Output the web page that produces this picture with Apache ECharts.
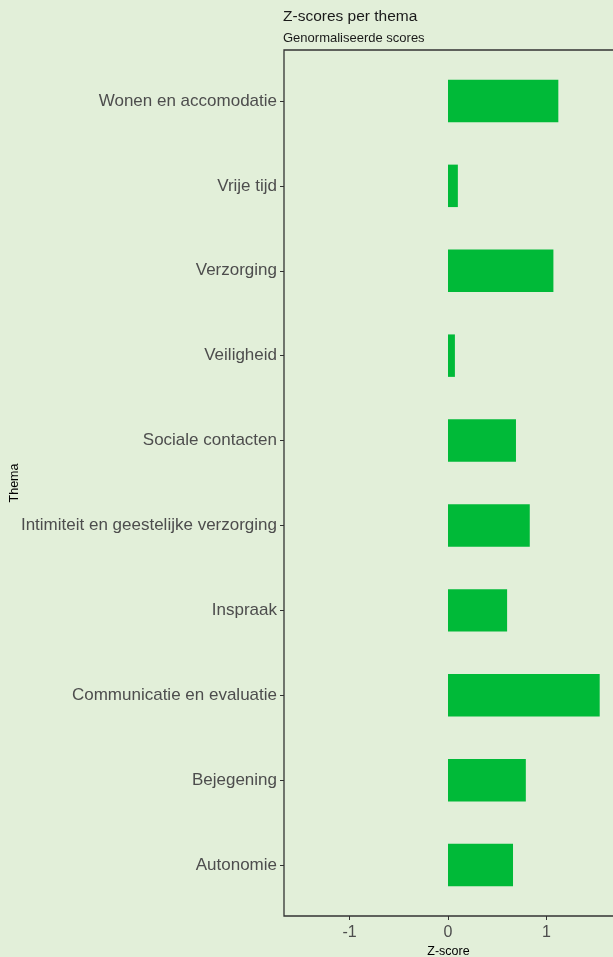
<!DOCTYPE html>
<html>
<head>
<meta charset="utf-8">
<script src="https://cdn.jsdelivr.net/npm/echarts@6/dist/echarts.min.js"></script>
<style>
html, body { margin: 0; padding: 0; background: #e2efd9; }
#chart { width: 613px; height: 957px; }
</style>
</head>
<body>
<div id="chart"></div>
<script>
var themes = ['Wonen en accomodatie', 'Vrije tijd', 'Verzorging', 'Veiligheid', 'Sociale contacten',
    'Intimiteit en geestelijke verzorging', 'Inspraak', 'Communicatie en evaluatie', 'Bejegening', 'Autonomie'];
var zscores = [1.12, 0.10, 1.07, 0.07, 0.69, 0.83, 0.60, 1.54, 0.79, 0.66];
var xTicks = [-1, 0, 1];

var textFont = '"Liberation Sans", Arial, sans-serif';
var chart = echarts.init(document.getElementById('chart'));
chart.setOption({
    backgroundColor: '#e2efd9',
    animation: false,
    title: {
        text: 'Z-scores per thema',
        subtext: 'Genormaliseerde scores',
        left: 283,
        top: 9,
        padding: 0,
        itemGap: 7,
        textStyle: { fontFamily: textFont, fontSize: 15.5, fontWeight: 'normal', color: '#1a1a1a' },
        subtextStyle: { fontFamily: textFont, fontSize: 13, color: '#1a1a1a' }
    },
    grid: { left: 284, right: 0, top: 58.5, bottom: 49.5, outerBoundsMode: 'none' },
    graphic: [{
        type: 'polyline',
        shape: { points: [[613, 50], [284, 50], [284, 916], [613, 916]] },
        style: { stroke: '#333333', lineWidth: 1.3, fill: null },
        z: 10
    }],
    xAxis: {
        type: 'value',
        min: -1.665,
        max: 1.675,
        offset: 8.5,
        name: 'Z-score',
        nameLocation: 'middle',
        nameGap: 29,
        nameMoveOverlap: false,
        nameTextStyle: { fontFamily: textFont, fontSize: 12.5, color: '#000' },
        splitLine: { show: false },
        axisLine: { show: false, onZero: false },
        axisTick: { show: true, length: 4, customValues: xTicks, lineStyle: { color: '#333' } },
        axisLabel: { customValues: xTicks, margin: 9, fontFamily: textFont, fontSize: 16, color: '#4d4d4d' }
    },
    yAxis: {
        type: 'category',
        inverse: true,
        data: themes,
        name: 'Thema',
        nameLocation: 'middle',
        nameGap: 263,
        nameMoveOverlap: false,
        nameRotate: 90,
        nameTextStyle: { fontFamily: textFont, fontSize: 12.5, color: '#000' },
        axisLine: { show: false, onZero: false },
        axisTick: { show: true, alignWithLabel: true, length: 4, lineStyle: { color: '#333' } },
        axisLabel: { margin: 7, padding: [5, 0, 0, 0], fontFamily: textFont, fontSize: 17, color: '#4d4d4d' }
    },
    series: [{
        type: 'bar',
        data: zscores,
        barCategoryGap: '50%',
        itemStyle: { color: '#00ba38' }
    }]
});
</script>
</body>
</html>
